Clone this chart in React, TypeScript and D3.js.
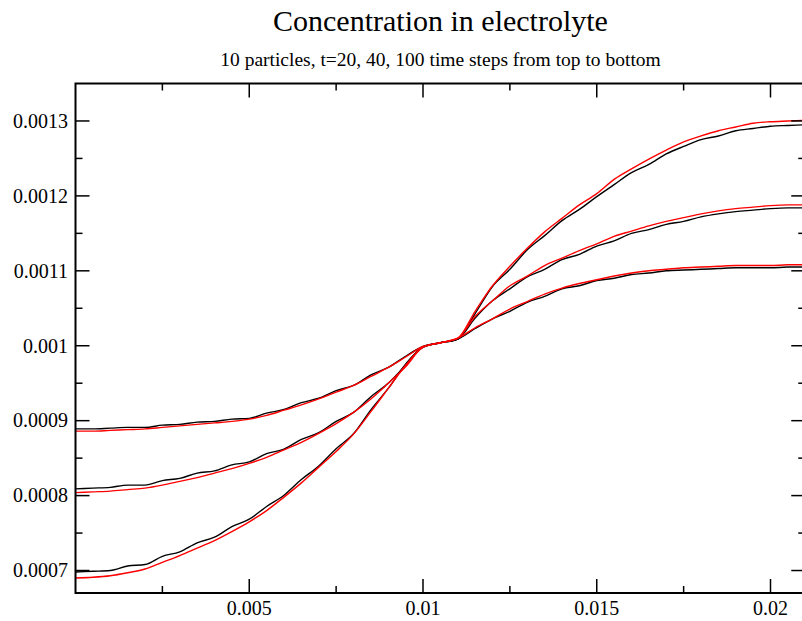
import React, { useEffect, useRef } from "react";
import * as d3 from "d3";

const TITLE = "Concentration in electrolyte";
const SUBTITLE = "10 particles, t=20, 40, 100 time steps from top to bottom";

const xPositions = [
  0, 0.0005, 0.001, 0.0015, 0.002, 0.0025, 0.003, 0.0035, 0.004, 0.0045,
  0.005, 0.0055, 0.006, 0.0065, 0.007, 0.0075, 0.008, 0.0085, 0.009, 0.0095,
  0.01, 0.0105, 0.011, 0.0115, 0.012, 0.0125, 0.013, 0.0135, 0.014, 0.0145,
  0.015, 0.0155, 0.016, 0.0165, 0.017, 0.0175, 0.018, 0.0185, 0.019, 0.0195,
  0.02, 0.0205, 0.021,
];

// analytic (red) curves
const redT20 = [
  0.000886, 0.000886, 0.000887, 0.000888, 0.000889, 0.000891, 0.000893, 0.000895, 0.000897, 0.000899,
  0.000902, 0.000907, 0.000914, 0.000921, 0.000929, 0.000938, 0.000947, 0.000959, 0.000971, 0.000985,
  0.000999, 0.001004, 0.00101, 0.001024, 0.001036, 0.001049, 0.001059, 0.001069, 0.001077, 0.001083,
  0.001088, 0.001093, 0.001097, 0.0011, 0.001102, 0.001104, 0.001105, 0.001106, 0.001107, 0.001107,
  0.001107, 0.001108, 0.001108,
];
const redT40 = [
  0.000804, 0.000805, 0.000806, 0.000808, 0.00081, 0.000814, 0.000819, 0.000824, 0.00083, 0.000836,
  0.000843, 0.000851, 0.000861, 0.000871, 0.000883, 0.000896, 0.000911, 0.000929, 0.00095, 0.000972,
  0.000998, 0.001004, 0.00101, 0.001039, 0.00106, 0.00108, 0.001093, 0.001107, 0.001117, 0.001127,
  0.001136, 0.001146, 0.001153, 0.00116, 0.001166, 0.001171, 0.001176, 0.00118, 0.001183, 0.001185,
  0.001187, 0.001188, 0.001188,
];
const redT100 = [
  0.00069, 0.000691, 0.000693, 0.000697, 0.000702, 0.000711, 0.00072, 0.00073, 0.00074, 0.000752,
  0.000765, 0.00078, 0.000798, 0.000817, 0.000838, 0.000859, 0.000882, 0.000912, 0.000943, 0.000974,
  0.000998, 0.001004, 0.00101, 0.001046, 0.00108, 0.001106, 0.00113, 0.001152, 0.00117, 0.001188,
  0.001203, 0.001222, 0.001236, 0.001249, 0.001261, 0.001272, 0.00128, 0.001287, 0.001292, 0.001297,
  0.001299, 0.0013, 0.001301,
];

// simulated (black) curves
const blackT20 = [
  0.000889, 0.000889, 0.00089, 0.000891, 0.000891, 0.000894, 0.000895, 0.000898, 0.000899, 0.000902,
  0.000903, 0.00091, 0.000915, 0.000924, 0.00093, 0.00094, 0.000947, 0.000961, 0.000971, 0.000986,
  0.000999, 0.001004, 0.001009, 0.001023, 0.001036, 0.001046, 0.001058, 0.001066, 0.001076, 0.00108,
  0.001087, 0.00109, 0.001095, 0.001097, 0.0011, 0.001101, 0.001102, 0.001103, 0.001104, 0.001104,
  0.001104, 0.001105, 0.001105,
];
const blackT40 = [
  0.000809, 0.00081, 0.000811, 0.000814, 0.000814, 0.00082, 0.000823, 0.00083, 0.000833, 0.000841,
  0.000845, 0.000856, 0.000862, 0.000875, 0.000884, 0.000899, 0.000911, 0.000932, 0.00095, 0.000974,
  0.000998, 0.001004, 0.001009, 0.001037, 0.00106, 0.001076, 0.001092, 0.001102, 0.001115, 0.001122,
  0.001133, 0.00114, 0.00115, 0.001155, 0.001162, 0.001166, 0.001172, 0.001176, 0.001179, 0.001181,
  0.001183, 0.001184, 0.001184,
];
const blackT100 = [
  0.000698, 0.000699, 0.0007, 0.000706, 0.000708, 0.000719, 0.000725, 0.000737, 0.0007445, 0.0007585,
  0.0007685, 0.0007855, 0.0008005, 0.0008215, 0.0008395, 0.0008625, 0.0008825, 0.0009145, 0.000943, 0.0009755,
  0.000998, 0.001004, 0.001009, 0.001043, 0.001079, 0.001102, 0.001128, 0.001147, 0.001167, 0.001182,
  0.001199, 0.001215, 0.001231, 0.001242, 0.001256, 0.001266, 0.001275, 0.00128, 0.001287, 0.00129,
  0.001293, 0.001294, 0.001295,
];

const xMajorTicks = [0.005, 0.01, 0.015, 0.02];
const xTickLabels = ["0.005", "0.01", "0.015", "0.02"];
const xMinorTicks = [0.0025, 0.0075, 0.0125, 0.0175];
const yMajorTicks = [0.0007, 0.0008, 0.0009, 0.001, 0.0011, 0.0012, 0.0013];
const yTickLabels = ["0.0007", "0.0008", "0.0009", "0.001", "0.0011", "0.0012", "0.0013"];
const yMinorTicks = [0.00075, 0.00085, 0.00095, 0.00105, 0.00115, 0.00125];

const W = 802;
const H = 621;
const FONT = "Liberation Serif, Times New Roman, Times, DejaVu Serif, serif";

export default function App() {
  const ref = useRef<SVGSVGElement | null>(null);

  useEffect(() => {
    const svg = d3.select(ref.current);
    svg.selectAll("*").remove();

    const left = 75.5, right = 805.25, top = 83.5, bottom = 593;
    const x = d3.scaleLinear().domain([0, 0.021]).range([left, right]);
    const y = d3.scaleLinear().domain([0.00067, 0.00135]).range([bottom, top]);

    svg.append("rect").attr("width", W).attr("height", H).attr("fill", "white");

    svg.append("text").attr("x", 440.5).attr("y", 31).attr("text-anchor", "middle")
      .style("font-family", FONT).style("font-size", "30px").attr("fill", "black").text(TITLE);
    svg.append("text").attr("x", 440.5).attr("y", 66).attr("text-anchor", "middle")
      .style("font-family", FONT).style("font-size", "19.5px").attr("fill", "black").text(SUBTITLE);

    const clip = svg.append("clipPath").attr("id", "plotclip");
    clip.append("rect").attr("x", left).attr("y", top).attr("width", right - left).attr("height", bottom - top);

    const g = svg.append("g").attr("clip-path", "url(#plotclip)");
    const series: [number[], string][] = [
      [blackT20, "black"], [blackT40, "black"], [blackT100, "black"],
      [redT20, "red"], [redT40, "red"], [redT100, "red"],
    ];
    const line = d3.line<number>()
      .x((_, i) => x(xPositions[i]))
      .y((d) => y(d))
      .curve(d3.curveMonotoneX);
    series.forEach(([vals, color]) => {
      g.append("path").attr("d", line(vals) as string).attr("fill", "none")
        .attr("stroke", color).attr("stroke-width", 1.4);
    });

    const ticks = svg.append("g").attr("stroke", "black").attr("stroke-width", 1.5);
    const major = 14, minor = 7;
    xMajorTicks.forEach((t) => {
      ticks.append("line").attr("x1", x(t)).attr("x2", x(t)).attr("y1", bottom).attr("y2", bottom - major);
      ticks.append("line").attr("x1", x(t)).attr("x2", x(t)).attr("y1", top).attr("y2", top + major);
    });
    xMinorTicks.forEach((t) => {
      ticks.append("line").attr("x1", x(t)).attr("x2", x(t)).attr("y1", bottom).attr("y2", bottom - minor);
      ticks.append("line").attr("x1", x(t)).attr("x2", x(t)).attr("y1", top).attr("y2", top + minor);
    });
    yMajorTicks.forEach((t) => {
      ticks.append("line").attr("x1", left).attr("x2", left + major).attr("y1", y(t)).attr("y2", y(t));
      ticks.append("line").attr("x1", right).attr("x2", right - major).attr("y1", y(t)).attr("y2", y(t));
    });
    yMinorTicks.forEach((t) => {
      ticks.append("line").attr("x1", left).attr("x2", left + minor).attr("y1", y(t)).attr("y2", y(t));
      ticks.append("line").attr("x1", right).attr("x2", right - minor).attr("y1", y(t)).attr("y2", y(t));
    });

    svg.append("rect").attr("x", left).attr("y", top).attr("width", right - left).attr("height", bottom - top)
      .attr("fill", "none").attr("stroke", "black").attr("stroke-width", 2);

    xMajorTicks.forEach((t, i) => {
      svg.append("text").attr("x", x(t)).attr("y", 615).attr("text-anchor", "middle")
        .style("font-family", FONT).style("font-size", "20px").attr("fill", "black").text(xTickLabels[i]);
    });
    yMajorTicks.forEach((t, i) => {
      svg.append("text").attr("x", 68).attr("y", y(t) + 6.8).attr("text-anchor", "end")
        .style("font-family", FONT).style("font-size", "20px").attr("fill", "black").text(yTickLabels[i]);
    });
  }, []);

  return (
    <svg ref={ref} width={W} height={H}
      style={{ position: "absolute", left: 0, top: 0, display: "block" }} />
  );
}
